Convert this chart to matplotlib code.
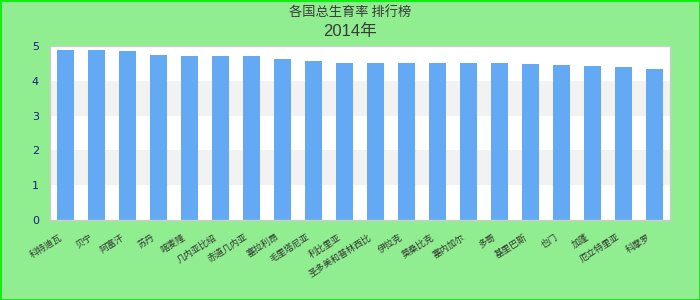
import matplotlib
matplotlib.use("Agg")
import matplotlib.pyplot as plt
import matplotlib.transforms as mtransforms

# 2014 values (labels rendered as tofu there)
countries = ["科特迪瓦", "贝宁", "阿富汗", "苏丹", "喀麦隆", "几内亚比绍", "赤道几内亚",
             "塞拉利昂", "毛里塔尼亚", "利比里亚", "圣多美和普林西比", "伊拉克", "莫桑比克",
             "塞内加尔", "多哥", "基里巴斯", "也门", "加蓬", "厄立特里亚", "科摩罗"]
values = [4.89, 4.89, 4.86, 4.74, 4.71, 4.71, 4.71, 4.63, 4.57, 4.51,
          4.51, 4.51, 4.51, 4.51, 4.51, 4.48, 4.45, 4.43, 4.40, 4.34]
yticks = [0, 1, 2, 3, 4, 5]
title_1 = "各国总生育率 排行榜"
title_2 = "2014年"

cjk = ["Noto Sans CJK SC", "DejaVu Sans"]

fig = plt.figure(figsize=(7, 3), dpi=100)
fig.patch.set_facecolor("#90ee90")
fig.patch.set_edgecolor("#11ee11")
fig.patch.set_linewidth(2)

ax = fig.add_axes([50 / 700, 80 / 300, 620 / 700, 174 / 300])
ax.set_facecolor("white")
for lo, hi in [(1, 2), (3, 4)]:
    ax.axhspan(lo, hi, color="#f2f2f2", zorder=0, lw=0)

x = range(len(countries))
ax.bar(x, values, width=0.55, color="#63a9f4", zorder=2)

ax.set_xlim(-0.5, len(countries) - 0.5)
ax.set_ylim(0, 5)
ax.set_yticks(yticks)
ax.set_yticklabels([str(v) for v in yticks], color="#1a1a8c", fontsize=8)
ax.tick_params(axis="y", length=0, pad=8)
ax.set_xticks(list(x))
ax.set_xticklabels(countries, rotation=32, ha="right", va="top",
                   rotation_mode="anchor", family=cjk, fontsize=6.5, color="#333333")
ax.tick_params(axis="x", length=0, pad=9)
shift = mtransforms.ScaledTranslation(-7 / 100, 0, fig.dpi_scale_trans)
for lab in ax.get_xticklabels():
    lab.set_transform(lab.get_transform() + shift)

for s in ax.spines.values():
    s.set_color("#cccccc")
    s.set_linewidth(1)

fig.text(0.5, 1 - 12 / 300, title_1, ha="center", va="center",
         family=cjk, fontsize=9.5, color="#3a3a3a")
fig.text(0.5, 1 - 31 / 300, title_2, ha="center", va="center",
         family=["Liberation Sans", "Noto Sans CJK SC"], fontsize=12, color="#3a3a3a")

fig.savefig("out.png", dpi=100, facecolor=fig.get_facecolor(), edgecolor=fig.get_edgecolor())
